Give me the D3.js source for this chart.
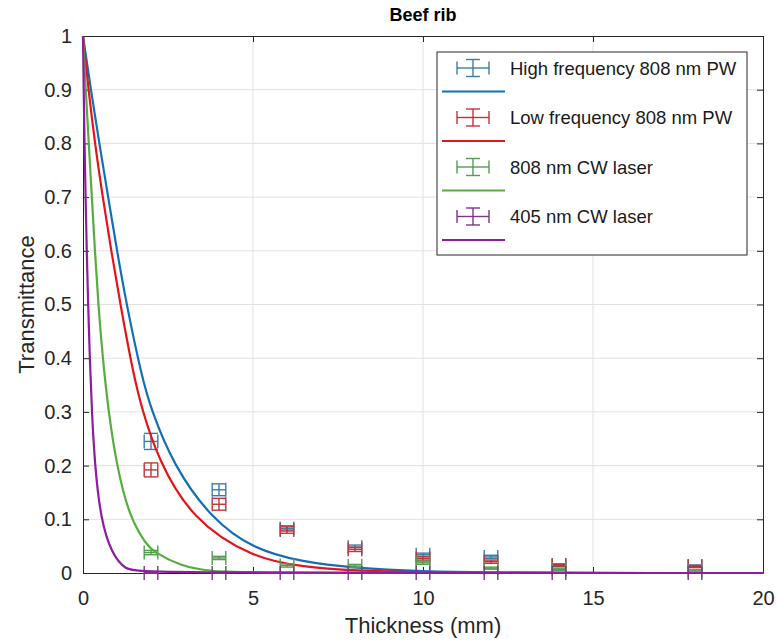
<!DOCTYPE html>
<html>
<head>
<meta charset="utf-8">
<script src="https://cdn.jsdelivr.net/npm/d3@7"></script>
<style>
  body { margin: 0; background: #fff; }
  svg { display: block; font-family: 'Liberation Sans', Arial, sans-serif; }
</style>
</head>
<body>
<svg id="chart" width="777" height="641"></svg>
<script>
// measured thickness (mm) and horizontal error
const thickness = [2, 4, 6, 8, 10, 12, 14, 18];
const thicknessErr = [0.2, 0.2, 0.2, 0.2, 0.2, 0.2, 0.2, 0.2];

const seriesNames = ['High frequency 808 nm PW', 'Low frequency 808 nm PW', '808 nm CW laser', '405 nm CW laser'];

// transmittance values + vertical errors
const highFreqT = [0.245, 0.155, 0.083, 0.048, 0.034, 0.030, 0.014, 0.013];
const highFreqErr = [0.015, 0.011, 0.005, 0.004, 0.003, 0.003, 0.002, 0.002];
const lowFreqT = [0.192, 0.128, 0.080, 0.044, 0.027, 0.021, 0.015, 0.012];
const lowFreqErr = [0.013, 0.011, 0.006, 0.004, 0.003, 0.003, 0.002, 0.002];
const cw808T = [0.038, 0.028, 0.014, 0.013, 0.019, 0.009, 0.007, 0.004];
const cw808Err = [0.004, 0.003, 0.003, 0.003, 0.003, 0.002, 0.002, 0.002];
const cw405T = [0, 0, 0, 0, 0, 0, 0, 0];
const cw405Err = [0, 0, 0, 0, 0, 0, 0, 0];

// fitted curves as [thickness, transmittance]
const highFreqFit = [[0, 1], [0.23, 0.9], [0.48, 0.8], [0.74, 0.7], [1.0, 0.6], [1.28, 0.5], [1.73, 0.365], [2.0, 0.305],
  [2.66, 0.2], [3.79, 0.1], [5, 0.045], [6.4, 0.021], [8, 0.009], [10, 0.003], [12, 0.001], [14, 0], [20, 0]];
const lowFreqFit = [[0, 1], [0.16, 0.9], [0.35, 0.8], [0.58, 0.7], [0.83, 0.6], [1.1, 0.5], [1.45, 0.38], [1.73, 0.305],
  [2.22, 0.21], [3.2, 0.1], [5, 0.028], [6.4, 0.012], [8, 0.004], [10, 0.001], [12, 0], [20, 0]];
const cw808Fit = [[0, 1], [0.08, 0.9], [0.17, 0.8], [0.26, 0.7], [0.35, 0.6], [0.45, 0.5], [0.58, 0.4], [0.75, 0.3],
  [0.99, 0.2], [1.36, 0.105], [1.87, 0.052], [2.07, 0.04], [2.86, 0.013], [3.74, 0.003], [5, 0], [20, 0]];
const cw405Fit = [[0, 1], [0.02, 0.9], [0.045, 0.8], [0.075, 0.7], [0.11, 0.6], [0.15, 0.5], [0.2, 0.4], [0.26, 0.3],
  [0.35, 0.2], [0.52, 0.1], [0.85, 0.035], [1.25, 0.006], [1.7, 0], [20, 0]];

const xTicks = [0, 5, 10, 15, 20];
const yTicks = [0, 0.1, 0.2, 0.3, 0.4, 0.5, 0.6, 0.7, 0.8, 0.9, 1];

const series = [
  { name: seriesNames[0], t: highFreqT, err: highFreqErr, fit: highFreqFit, line: '#1170b5', bar: '#3a7ea6' },
  { name: seriesNames[1], t: lowFreqT, err: lowFreqErr, fit: lowFreqFit, line: '#e5141b', bar: '#c3333a' },
  { name: seriesNames[2], t: cw808T, err: cw808Err, fit: cw808Fit, line: '#55ad3f', bar: '#539c50' },
  { name: seriesNames[3], t: cw405T, err: cw405Err, fit: cw405Fit, line: '#8d1c9f', bar: '#7a3884' },
];

const W = 777, H = 641;
const margin = { top: 36, right: 14, bottom: 68, left: 83 };
const axisColor = '#262626';
const cap = 7;

const svg = d3.select('#chart');
svg.append('rect').attr('width', W).attr('height', H).attr('fill', '#fff');

const x = d3.scaleLinear().domain([0, 20]).range([margin.left, W - margin.right]);
const y = d3.scaleLinear().domain([0, 1]).range([H - margin.bottom, margin.top]);

// grid
const grid = svg.append('g').attr('stroke', '#e1e1e1').attr('stroke-width', 1);
grid.selectAll('.gx').data(xTicks.slice(1, -1)).join('line')
  .attr('x1', d => x(d)).attr('x2', d => x(d))
  .attr('y1', y(0)).attr('y2', y(1));
grid.selectAll('.gy').data(yTicks.slice(1, -1)).join('line')
  .attr('x1', x(0)).attr('x2', x(20))
  .attr('y1', d => y(d)).attr('y2', d => y(d));

const fmt = d => String(+d.toFixed(1));

// axes, ticks inward
function styleAxis(g) {
  g.selectAll('.domain').attr('stroke', axisColor);
  g.selectAll('.tick line').attr('stroke', axisColor);
  g.selectAll('.tick text').attr('fill', axisColor).style('font-size', '20px');
}
svg.append('g').attr('transform', `translate(0,${y(0)})`)
  .call(d3.axisBottom(x).tickValues(xTicks).tickFormat(fmt).tickSizeInner(-6).tickSizeOuter(0).tickPadding(18))
  .call(styleAxis);
svg.append('g').attr('transform', `translate(0,${y(1)})`)
  .call(d3.axisTop(x).tickValues(xTicks).tickFormat('').tickSizeInner(-6).tickSizeOuter(0))
  .call(styleAxis);
svg.append('g').attr('transform', `translate(${x(0)},0)`)
  .call(d3.axisLeft(y).tickValues(yTicks).tickFormat(fmt).tickSizeInner(-6).tickSizeOuter(0).tickPadding(11))
  .call(styleAxis);
svg.append('g').attr('transform', `translate(${x(20)},0)`)
  .call(d3.axisRight(y).tickValues(yTicks).tickFormat('').tickSizeInner(-6).tickSizeOuter(0))
  .call(styleAxis);

// data: error bars then fitted curve per series
const line = d3.line().x(d => x(d[0])).y(d => y(d[1])).curve(d3.curveBasis);

function errorBar(g, cx, cy, x0, x1, y0, y1, color) {
  const segs = [
    [x0, cy, x1, cy], [x0, cy - cap, x0, cy + cap], [x1, cy - cap, x1, cy + cap],
    [cx, y0, cx, y1], [cx - cap, y0, cx + cap, y0], [cx - cap, y1, cx + cap, y1],
  ];
  g.selectAll(null).data(segs).join('line')
    .attr('x1', d => d[0]).attr('y1', d => d[1]).attr('x2', d => d[2]).attr('y2', d => d[3])
    .attr('stroke', color).attr('stroke-width', 1.4);
}

series.forEach(s => {
  const g = svg.append('g');
  thickness.forEach((t, i) => {
    errorBar(g.append('g'), x(t), y(s.t[i]), x(t - thicknessErr[i]), x(t + thicknessErr[i]),
      y(s.t[i] + s.err[i]), y(s.t[i] - s.err[i]), s.bar);
  });
  svg.append('path').datum(s.fit)
    .attr('d', line).attr('fill', 'none').attr('stroke', s.line).attr('stroke-width', 2.2);
});

// title + labels
svg.append('text').attr('x', (x(0) + x(20)) / 2).attr('y', 21).attr('text-anchor', 'middle')
  .style('font-size', '18px').style('font-weight', 'bold').attr('fill', '#000').text('Beef rib');
svg.append('text').attr('x', (x(0) + x(20)) / 2).attr('y', 633).attr('text-anchor', 'middle')
  .style('font-size', '22px').attr('fill', axisColor).text('Thickness (mm)');
svg.append('text').attr('transform', `translate(34,${(y(0) + y(1)) / 2}) rotate(-90)`).attr('text-anchor', 'middle')
  .style('font-size', '22px').attr('fill', axisColor).text('Transmittance');

// legend
const leg = svg.append('g').attr('transform', 'translate(437,52)');
leg.append('rect').attr('width', 310).attr('height', 203).attr('fill', '#fff')
  .attr('stroke', axisColor).attr('stroke-width', 1);
series.forEach((s, i) => {
  const ry = 16 + i * 49.5;
  const eg = leg.append('g');
  const segs = [
    [20, ry, 52, ry], [20, ry - 6.5, 20, ry + 6.5], [52, ry - 6.5, 52, ry + 6.5],
    [36, ry - 8.5, 36, ry + 8.5], [29, ry - 8.5, 43, ry - 8.5], [29, ry + 8.5, 43, ry + 8.5],
  ];
  eg.selectAll('line').data(segs).join('line')
    .attr('x1', d => d[0]).attr('y1', d => d[1]).attr('x2', d => d[2]).attr('y2', d => d[3])
    .attr('stroke', s.bar).attr('stroke-width', 1.4);
  leg.append('line').attr('x1', 5).attr('x2', 68).attr('y1', ry + 23.5).attr('y2', ry + 23.5)
    .attr('stroke', s.line).attr('stroke-width', 2.2);
  leg.append('text').attr('x', 73).attr('y', ry).attr('dy', '0.36em')
    .style('font-size', '18.5px').attr('fill', '#1a1a1a').text(s.name);
});
</script>
</body>
</html>
